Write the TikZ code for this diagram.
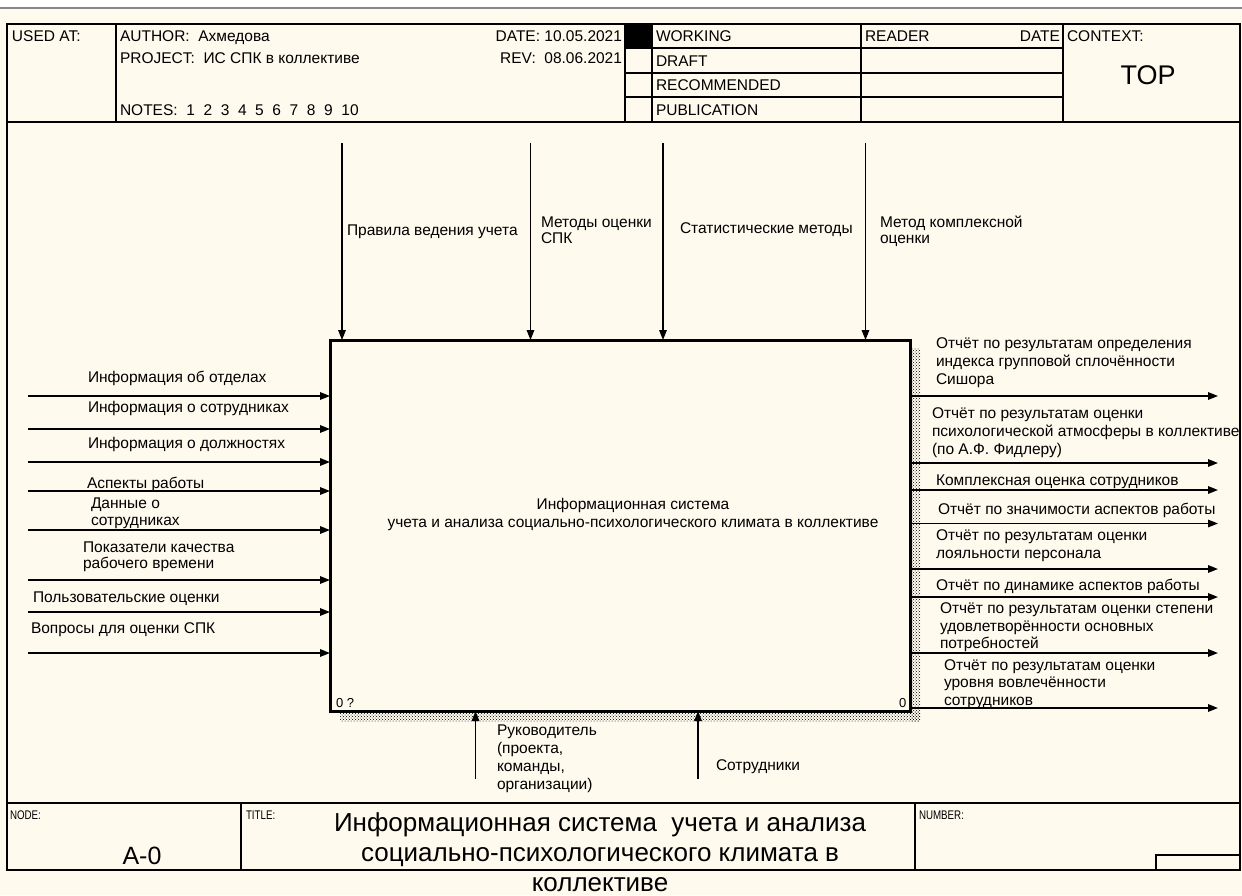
\documentclass[tikz,border=0pt]{standalone}
\usepackage{fontspec}
\setmainfont{Liberation Sans}
\newfontfamily\narrowfont{Liberation Sans}[FakeStretch=0.78]
\usetikzlibrary{arrows.meta,patterns}
\definecolor{paper}{RGB}{255,250,238}
\definecolor{rulegray}{RGB}{135,135,135}
\begin{document}
% multi-line labels sit on the baseline of their last line
\begin{tikzpicture}[x=1pt,y=-1pt,
  frame/.style={draw=black, line width=1.4pt},
  arr/.style={line width=1.5pt, -{Triangle[length=10pt,width=7.5pt]}},
  lbl/.style={anchor=base west, inner sep=0pt, outer sep=0pt, align=left,
              font=\fontsize{15.5}{18}\selectfont},
  lblr/.style={anchor=base east, inner sep=0pt, outer sep=0pt,
              font=\fontsize{15.5}{18}\selectfont},
  small/.style={anchor=base west, inner sep=0pt, outer sep=0pt,
              font=\narrowfont\fontsize{12.5}{14}\selectfont},
  corner/.style={anchor=base west, inner sep=0pt, outer sep=0pt,
              font=\fontsize{13}{15}\selectfont},
  shadow/.style={pattern=crosshatch dots, pattern color=black},
  ]
\useasboundingbox (0,0) rectangle (1242,895);
\fill[paper] (0,0) rectangle (1242,895);
\fill[white] (0,0) rectangle (1242,7);
\draw[rulegray, line width=2pt] (0,8) -- (1242,8);

% ---------- outer frame, header and footer ----------
\draw[frame] (7,24) rectangle (1240,870);
\draw[frame] (7,122) -- (1240,122);
\draw[frame] (7,803) -- (1240,803);
\foreach \x in {116,625,652,861,1063} \draw[frame] (\x,24) -- (\x,122);
\foreach \y in {48,73,97} \draw[frame] (625,\y) -- (1063,\y);
\fill (625,24) rectangle (652,48);
\draw[frame] (241,803) -- (241,870);
\draw[frame] (915,803) -- (915,870);
\draw[frame] (1156,870) |- (1240,855);

\node[lbl] (usedat) at (12,41.5) {USED AT:};
\node[lbl] (author) at (120,41.5) {AUTHOR:\ \ Ахмедова};
\node[lbl] (project) at (120,63.5) {PROJECT:\ \ ИС СПК в коллективе};
\node[lbl] (notes) at (120,115) {NOTES:\ \ 1\ \ 2\ \ 3\ \ 4\ \ 5\ \ 6\ \ 7\ \ 8\ \ 9\ \ 10};
\node[lblr] (date) at (622,41.5) {DATE: 10.05.2021};
\node[lblr] (rev) at (622,63.5) {REV:\ \ 08.06.2021};
\node[lbl] (working) at (656,41.5) {WORKING};
\node[lbl] (draft) at (656,66) {DRAFT};
\node[lbl] (recommended) at (656,90.5) {RECOMMENDED};
\node[lbl] (publication) at (656,115) {PUBLICATION};
\node[lbl] (reader) at (865,41.5) {READER};
\node[lblr] (rdate) at (1060,41.5) {DATE};
\node[lbl] (context) at (1067,41.5) {CONTEXT:};
\node[anchor=base, inner sep=0pt, font=\fontsize{27}{30}\selectfont] (top) at (1148,84) {TOP};

\node[small] (nodelbl) at (10,819) {NODE:};
\node[small] (titlelbl) at (246,819) {TITLE:};
\node[small] (numberlbl) at (919,819) {NUMBER:};
\node[anchor=base, inner sep=0pt, font=\fontsize{25}{30}\selectfont] (nodeno) at (142,864) {A-0};
\node[anchor=base, inner sep=0pt, align=center, font=\fontsize{26}{30}\selectfont] (title) at (600,891)
  {Информационная система\ \ учета и анализа\\социально-психологического климата в\\коллективе};

% ---------- activity box with its shadow ----------
\fill[shadow] (340,711) rectangle (920,721);
\fill[shadow] (910,348) rectangle (920,721);
\node[draw, line width=3pt, fill=paper, minimum width=580pt, minimum height=371pt,
      inner sep=0pt, outer sep=0pt] (A0) at (620,525.5) {};
\node[anchor=center, inner sep=0pt, align=center, font=\fontsize{15.5}{18}\selectfont] (A0name) at (633,514)
  {Информационная система\\учета и анализа социально-психологического климата в коллективе};
\node[corner] (num) at (336,707) {0 ?};
\node[corner] (cost) at (899,707) {0};

% ---------- controls ----------
\coordinate (c1) at (342,143);
\coordinate (c2) at (530.5,143);
\coordinate (c3) at (663,143);
\coordinate (c4) at (865.5,143);
\foreach \c in {c1,c2,c3,c4} \draw[arr] (\c) -- (\c |- A0.north);
\node[lbl] (lc1) at (347,235.5) {Правила ведения учета};
\node[lbl] (lc2) at (541,243.5) {Методы оценки\\[-2pt]СПК};
\node[lbl] (lc3) at (680,233.5) {Статистические методы};
\node[lbl] (lc4) at (880,243.5) {Метод комплексной\\[-2pt]оценки};

% ---------- inputs ----------
\coordinate (i1) at (28,396);
\coordinate (i2) at (28,429);
\coordinate (i3) at (28,462);
\coordinate (i4) at (28,491);
\coordinate (i5) at (28,530);
\coordinate (i6) at (28,580);
\coordinate (i7) at (28,612);
\coordinate (i8) at (28,653);
\foreach \i in {i1,i2,i3,i4,i5,i6,i7,i8} \draw[arr] (\i) -- (\i -| A0.west);
\node[lbl] (li1) at (88,382) {Информация об отделах};
\node[lbl] (li2) at (88,412.5) {Информация о сотрудниках};
\node[lbl] (li3) at (88,448) {Информация о должностях};
\node[lbl] (li4) at (87,488) {Аспекты работы};
\node[lbl] (li5) at (91,525) {Данные о\\[-1pt]сотрудниках};
\node[lbl] (li6) at (83,568) {Показатели качества\\[-2pt]рабочего времени};
\node[lbl] (li7) at (33,602) {Пользовательские оценки};
\node[lbl] (li8) at (31,633) {Вопросы для оценки СПК};

% ---------- outputs ----------
\coordinate (o1) at (1218,396);
\coordinate (o2) at (1218,463);
\coordinate (o3) at (1218,490);
\coordinate (o4) at (1218,523.5);
\coordinate (o5) at (1218,569);
\coordinate (o6) at (1218,597);
\coordinate (o7) at (1218,653);
\coordinate (o8) at (1218,708);
\foreach \o in {o1,o2,o3,o4,o5,o6,o7,o8} \draw[arr] (\o -| A0.east) -- (\o);
\node[lbl] (lo1) at (936,384.5) {Отчёт по результатам определения\\индекса групповой сплочённости\\Сишора};
\node[lbl] (lo2) at (932,454.5) {Отчёт по результатам оценки\\психологической атмосферы в коллективе\\(по А.Ф. Фидлеру)};
\node[lbl] (lo3) at (936,485.5) {Комплексная оценка сотрудников};
\node[lbl] (lo4) at (938,514.5) {Отчёт по значимости аспектов работы};
\node[lbl] (lo5) at (936,558.5) {Отчёт по результатам оценки\\лояльности персонала};
\node[lbl] (lo6) at (936,590.5) {Отчёт по динамике аспектов работы};
\node[lbl] (lo7) at (940,648.5) {Отчёт по результатам оценки степени\\[-0.5pt]удовлетворённости основных\\[-0.5pt]потребностей};
\node[lbl] (lo8) at (944,705) {Отчёт по результатам оценки\\[-0.5pt]уровня вовлечённости\\[-0.5pt]сотрудников};

% ---------- mechanisms ----------
\coordinate (m1) at (475.5,779);
\coordinate (m2) at (698,779);
\foreach \m in {m1,m2} \draw[arr] (\m) -- (\m |- A0.south);
\node[lbl] (lm1) at (497,789) {Руководитель\\(проекта,\\команды,\\организации)};
\node[lbl] (lm2) at (716,770.5) {Сотрудники};
\end{tikzpicture}
\end{document}
